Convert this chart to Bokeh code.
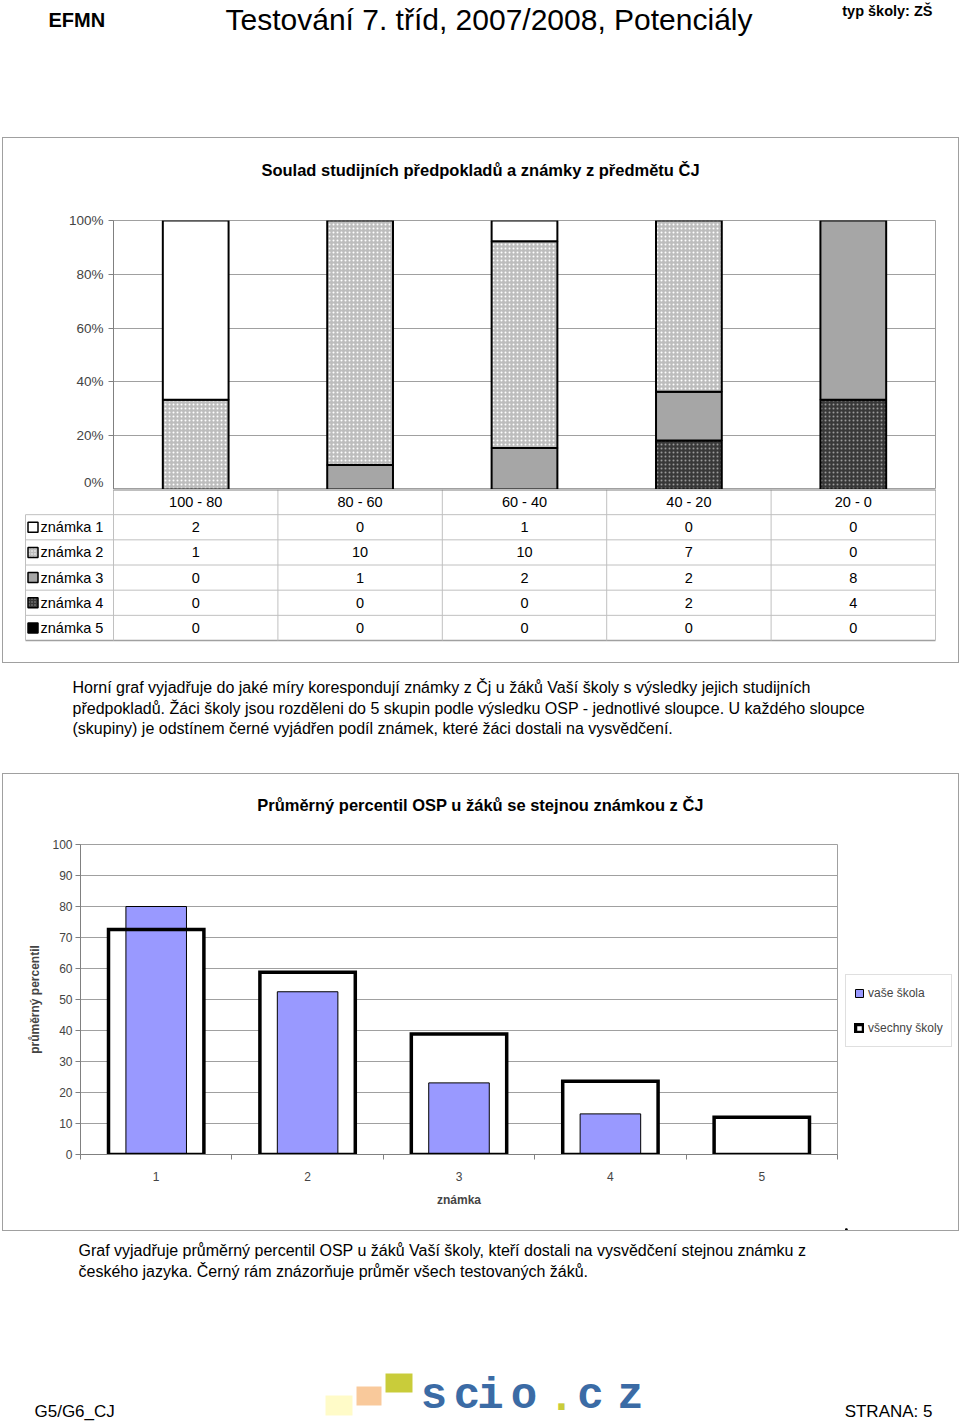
import numpy as np
from bokeh.plotting import figure
from bokeh.layouts import column, row
from bokeh.models import (Range1d, FixedTicker, NumeralTickFormatter,
                          Legend, LegendItem, ColumnDataSource, Spacer)
from bokeh.core.properties import value
from bokeh.embed import file_html
from bokeh.resources import INLINE

# ---------------- data ----------------
categories = ["100 - 80", "80 - 60", "60 - 40", "40 - 20", "20 - 0"]
grade_names = ["známka 1", "známka 2", "známka 3", "známka 4", "známka 5"]
znamka1 = [2, 0, 1, 0, 0]
znamka2 = [1, 10, 10, 7, 0]
znamka3 = [0, 1, 2, 2, 8]
znamka4 = [0, 0, 0, 2, 4]
znamka5 = [0, 0, 0, 0, 0]
pct_ticks = [0, 0.2, 0.4, 0.6, 0.8, 1.0]

grades = ["1", "2", "3", "4", "5"]
vase_skola = [80.0, 52.5, 23.1, 13.1, float("nan")]
vsechny_skoly = [72.6, 58.8, 38.9, 23.6, 12.0]
perc_ticks = [0, 10, 20, 30, 40, 50, 60, 70, 80, 90, 100]
series_labels = ["vaše škola", "všechny školy"]

header_left = "EFMN"
header_title = "Testování 7. tříd, 2007/2008, Potenciály"
header_right = "typ školy: ZŠ"
title1 = "Soulad studijních předpokladů a známky z předmětu ČJ"
title2 = "Průměrný percentil OSP u žáků se stejnou známkou z ČJ"
para1 = ["Horní graf vyjadřuje do jaké míry korespondují známky z Čj u žáků Vaší školy s výsledky jejich studijních",
         "předpokladů. Žáci školy jsou rozděleni do 5 skupin podle výsledku OSP - jednotlivé sloupce. U každého sloupce",
         "(skupiny) je odstínem černé vyjádřen podíl známek, které žáci dostali na vysvědčení."]
para2 = ["Graf vyjadřuje průměrný percentil OSP u žáků Vaší školy, kteří dostali na vysvědčení stejnou známku z",
         "českého jazyka. Černý rám znázorňuje průměr všech testovaných žáků."]
footer_left = "G5/G6_CJ"
footer_right = "STRANA: 5"
logo_chars = ["s", "c", "i", "o", ".", "c", "z"]

# ---------------- styles ----------------
FONT = "Liberation Sans"
GRID = "#a0a0a0"
AXIS = "#808080"
TAB = "#c0c0c0"
BOX = "1px solid #a0a0a0"
W = 960
INNER = 955
grade_fill = ["white", "#bdbdbd", "#a6a6a6", "#383838", "black"]
grade_hatch = [None, "dot", None, "dot", None]
grade_hatch_color = ["white", "white", "white", "#9a9a9a", "white"]
VASE_FILL = "#9999ff"
LOGO_BLUE = "#3b6ba5"
LOGO_GREEN = "#c9cc3a"


def text_fig(w, h):
    p = figure(width=w, height=h, x_range=Range1d(0, w), y_range=Range1d(h, 0),
               x_axis_type=None, y_axis_type=None, toolbar_location=None,
               output_backend="svg", min_border=0, outline_line_color=None,
               frame_align=False)
    p.grid.visible = False
    return p


def put(p, x, y, s, size, bold=False, align="left", color="black", font=FONT):
    p.text(x=[x], y=[y], text=[s], text_font=value(font),
           text_font_size=f"{size}px",
           text_font_style="bold" if bold else "normal",
           text_align=align, text_baseline="middle", text_color=color)


# ---------------- header (rows 0..136) ----------------
hdr = text_fig(W, 137)
put(hdr, 48, 19, header_left, 20, bold=True)
put(hdr, 225, 19, header_title, 30)
put(hdr, 932, 10, header_right, 14.5, bold=True, align="right")

# ---------------- chart 1 ----------------
ncat = len(categories)
x_c = np.arange(ncat) + 0.5
counts = np.array([znamka1, znamka2, znamka3, znamka4, znamka5], dtype=float)
shares = counts / counts.sum(axis=0)

t1 = text_fig(INNER, 60)
put(t1, 477, 31, title1, 16.5, bold=True, align="center")

p1 = figure(width=INNER, height=291, x_range=Range1d(0, ncat), y_range=Range1d(0, 1),
            x_axis_type=None, toolbar_location=None, output_backend="svg",
            min_border_left=110, min_border_right=23, min_border_top=22,
            min_border_bottom=0, outline_line_color=GRID, frame_align=False)
p1.ygrid.ticker = FixedTicker(ticks=pct_ticks)
p1.ygrid.grid_line_color = GRID
p1.yaxis.ticker = FixedTicker(ticks=pct_ticks)
p1.yaxis.formatter = NumeralTickFormatter(format="0%")
p1.yaxis.major_label_text_font = FONT
p1.yaxis.major_label_text_font_size = "13.5px"
p1.yaxis.axis_line_color = AXIS
p1.yaxis.major_tick_line_color = AXIS
p1.yaxis.major_tick_out = 5
p1.yaxis.major_tick_in = 0
p1.yaxis.minor_tick_line_color = None
p1.yaxis.major_label_standoff = 5

bottom = np.zeros(ncat)
for g in [4, 3, 2, 1, 0]:
    top = bottom + shares[g]
    m = shares[g] > 0
    if m.any():
        src = ColumnDataSource(dict(x=x_c[m], b=bottom[m], t=top[m]))
        kw = {}
        if grade_hatch[g]:
            kw = dict(hatch_pattern=grade_hatch[g], hatch_color=grade_hatch_color[g],
                      hatch_scale=4, hatch_weight=1)
        p1.vbar(x="x", bottom="b", top="t", width=0.40, source=src,
                fill_color=grade_fill[g], line_color="black", line_width=2, **kw)
    bottom = top

# ---------------- table under chart 1 ----------------
u = 822 / ncat           # px per column
rh = 151 / 6             # px per row
lw = 88 / u              # label column width in column units
pt = figure(width=INNER, height=173,
            x_range=Range1d(-lw - 1 / u, ncat + 2 / u),
            y_range=Range1d(6 + 2 / rh, 0),
            x_axis_type=None, y_axis_type=None, toolbar_location=None,
            output_backend="svg", min_border_left=21, min_border_right=21,
            min_border_top=0, min_border_bottom=20, outline_line_color=None,
            frame_align=False)
pt.grid.visible = False
nrow = len(grade_names)
hy = list(range(1, nrow + 1))
pt.segment(x0=[-lw] * len(hy), y0=hy, x1=[ncat] * len(hy), y1=hy, line_color=TAB, line_width=1)
pt.segment(x0=[-lw], y0=[nrow + 1], x1=[ncat], y1=[nrow + 1], line_color=GRID, line_width=1.5)
vx = list(range(0, ncat + 1))
pt.segment(x0=vx, y0=[0] * len(vx), x1=vx, y1=[nrow + 1] * len(vx), line_color=TAB, line_width=1)
pt.segment(x0=[-lw], y0=[1], x1=[-lw], y1=[nrow + 1], line_color=TAB, line_width=1)
pt.segment(x0=[0], y0=[0], x1=[ncat], y1=[0], line_color=AXIS, line_width=2)
pt.text(x=x_c, y=[0.5] * ncat, text=categories, text_font=value(FONT),
        text_font_size="14.5px", text_align="center", text_baseline="middle")
for r in range(nrow):
    pt.text(x=x_c, y=[r + 1.5] * ncat, text=[str(int(v)) for v in counts[r]],
            text_font=value(FONT), text_font_size="14.5px", text_align="center",
            text_baseline="middle")
    kw = {}
    if grade_hatch[r]:
        kw = dict(hatch_pattern=grade_hatch[r], hatch_color=grade_hatch_color[r],
                  hatch_scale=3, hatch_weight=1)
    pt.scatter(x=[-lw + 7.5 / u], y=[r + 1.5], marker="square", size=10,
               fill_color=grade_fill[r], line_color="black", line_width=1.5, **kw)
pt.text(x=[-lw + 15 / u] * nrow, y=[r + 1.5 for r in range(nrow)], text=grade_names,
        text_font=value(FONT), text_font_size="14.5px", text_align="left",
        text_baseline="middle")

col1 = column(t1, p1, pt, styles={"border": BOX})

# ---------------- paragraph 1 ----------------
pp1 = text_fig(W, 110)
for i, line in enumerate(para1):
    put(pp1, 72, 24 + i * 20.5, line, 16)

# ---------------- chart 2 ----------------
t2 = text_fig(INNER, 56)
put(t2, 477, 30, title2, 16.5, bold=True, align="center")

xs = np.arange(1, len(grades) + 1)
p2 = figure(width=842, height=400, x_range=Range1d(0.5, len(grades) + 0.5),
            y_range=Range1d(0, 100), toolbar_location=None, output_backend="svg",
            min_border_left=77, min_border_right=8, min_border_top=14,
            min_border_bottom=76, outline_line_color=GRID, frame_align=False)
p2.xgrid.visible = False
p2.ygrid.ticker = FixedTicker(ticks=perc_ticks)
p2.ygrid.grid_line_color = GRID
p2.yaxis.ticker = FixedTicker(ticks=perc_ticks)
p2.yaxis.major_label_text_font = FONT
p2.yaxis.major_label_text_font_size = "12px"
p2.yaxis.axis_line_color = AXIS
p2.yaxis.major_tick_line_color = AXIS
p2.yaxis.major_tick_out = 5
p2.yaxis.major_tick_in = 0
p2.yaxis.minor_tick_line_color = None
p2.yaxis.major_label_standoff = 3
p2.yaxis.axis_label = "průměrný percentil"
p2.yaxis.axis_label_text_font = FONT
p2.yaxis.axis_label_text_font_size = "12px"
p2.yaxis.axis_label_text_font_style = "bold"
p2.yaxis.axis_label_standoff = 7

p2.xaxis.ticker = FixedTicker(ticks=list(xs), minor_ticks=list(np.arange(0.5, len(grades) + 1, 1.0)))
p2.xaxis.major_label_overrides = {int(x): g for x, g in zip(xs, grades)}
p2.xaxis.major_label_text_font = FONT
p2.xaxis.major_label_text_font_size = "12px"
p2.xaxis.axis_line_color = AXIS
p2.xaxis.major_tick_out = 0
p2.xaxis.major_tick_in = 0
p2.xaxis.minor_tick_out = 5
p2.xaxis.minor_tick_in = 0
p2.xaxis.minor_tick_line_color = AXIS
p2.xaxis.major_label_standoff = 12
p2.xaxis.axis_label = "známka"
p2.xaxis.axis_label_text_font = FONT
p2.xaxis.axis_label_text_font_size = "12px"
p2.xaxis.axis_label_text_font_style = "bold"
p2.xaxis.axis_label_standoff = 9

src2 = ColumnDataSource(dict(x=xs, vase=vase_skola, vse=vsechny_skoly))
p2.vbar(x="x", top="vse", width=0.63, source=src2, fill_color="white", line_color=None)
p2.vbar(x="x", top="vase", width=0.40, source=src2, fill_color=VASE_FILL,
        line_color="black", line_width=1)
p2.vbar(x="x", top="vse", width=0.63, source=src2, fill_alpha=0,
        line_color="black", line_width=3.5, line_join="miter")

# legend panel to the right of chart 2 (same series, kept far outside this panel's view)
lf = figure(width=INNER - 842, height=400, x_range=Range1d(100, 101),
            y_range=Range1d(1000, 1001),
            x_axis_type=None, y_axis_type=None, toolbar_location=None,
            output_backend="svg", min_border=0, outline_line_color=None,
            frame_align=False)
lf.grid.visible = False
l_vase = lf.vbar(x="x", top="vase", width=0.4, source=src2, fill_color=VASE_FILL,
                 line_color="black", line_width=1)
l_all = lf.vbar(x="x", top="vse", width=0.63, source=src2, fill_alpha=0,
                line_color="black", line_width=3.5, line_join="miter")
legend = Legend(items=[LegendItem(label=series_labels[0], renderers=[l_vase]),
                       LegendItem(label=series_labels[1], renderers=[l_all])],
                location=(0, 183), orientation="vertical",
                label_text_font=FONT, label_text_font_size="12px",
                glyph_width=10, glyph_height=10, label_height=20, spacing=15,
                padding=8, margin=0, label_standoff=4,
                border_line_color="#c0c0c0", border_line_width=1,
                background_fill_color="white", background_fill_alpha=1)
lf.add_layout(legend)

col2 = column(t2, row(p2, lf), styles={"border": BOX})

# ---------------- paragraph 2 + footer ----------------
pb = text_fig(W, 191)
for i, line in enumerate(para2):
    put(pb, 78, 19 + i * 21, line, 16)
put(pb, 34, 180, footer_left, 17)
put(pb, 932, 180, footer_right, 17, align="right")
# logo
pb.quad(left=[325, 356, 385], right=[352, 381, 412], top=[164, 155, 142],
        bottom=[184, 174, 161], fill_color=["#fffbc8", "#f9c99b", LOGO_GREEN], line_color=None)
logo_x = [433.5, 466.5, 490, 523.5, 561, 590, 630]
logo_col = [LOGO_BLUE, LOGO_BLUE, LOGO_BLUE, LOGO_BLUE, LOGO_GREEN, LOGO_BLUE, LOGO_BLUE]
pb.text(x=logo_x, y=[164] * len(logo_x), text=logo_chars, text_font=value("Liberation Mono"),
        text_font_size="44px", text_font_style="bold", text_align="center",
        text_baseline="middle", text_color=logo_col)

page = column(hdr,
              row(Spacer(width=2, height=526), col1),
              pp1,
              row(Spacer(width=2, height=458), col2),
              pb)
open("out.html", "w").write(file_html(page, INLINE))
